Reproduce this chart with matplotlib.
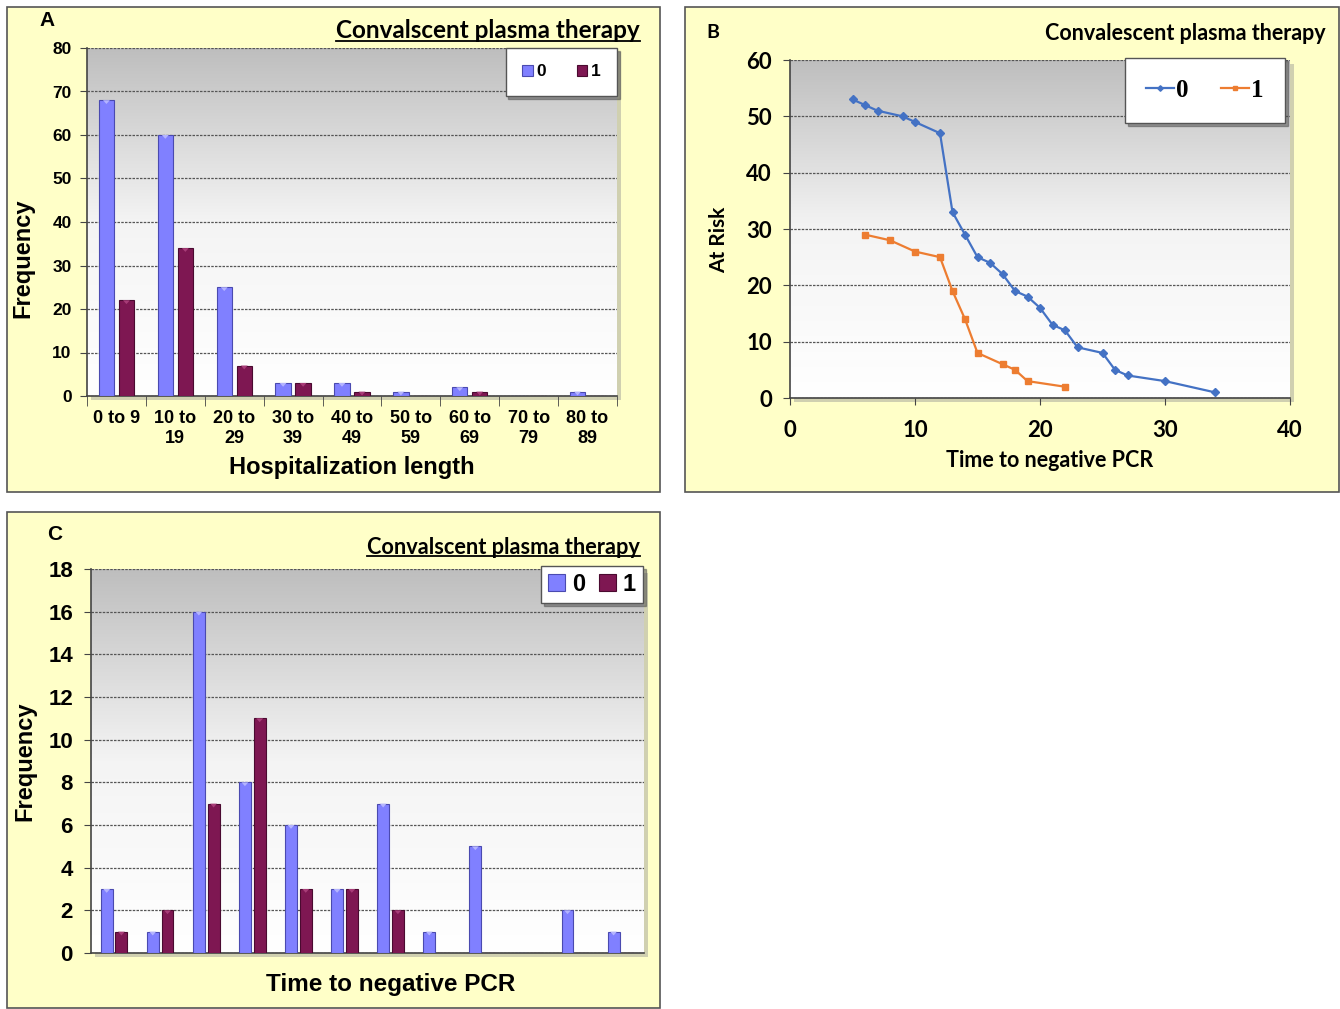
import matplotlib
matplotlib.use("Agg")
import matplotlib.pyplot as plt
import numpy as np
from matplotlib.patches import Rectangle
from matplotlib.lines import Line2D

# panel A data
hosp_cats = ["0 to 9", "10 to\n19", "20 to\n29", "30 to\n39", "40 to\n49",
             "50 to\n59", "60 to\n69", "70 to\n79", "80 to\n89"]
hosp_no_cp = [68, 60, 25, 3, 3, 1, 2, 0, 1]
hosp_cp = [22, 34, 7, 3, 1, 0, 1, 0, 0]

# panel B data
risk_x0 = [5, 6, 7, 9, 10, 12, 13, 14, 15, 16, 17, 18, 19, 20, 21, 22, 23, 25, 26, 27, 30, 34]
risk_y0 = [53, 52, 51, 50, 49, 47, 33, 29, 25, 24, 22, 19, 18, 16, 13, 12, 9, 8, 5, 4, 3, 1]
risk_x1 = [6, 8, 10, 12, 13, 14, 15, 17, 18, 19, 22]
risk_y1 = [29, 28, 26, 25, 19, 14, 8, 6, 5, 3, 2]

# panel C data
pcr_no_cp = [3, 1, 16, 8, 6, 3, 7, 1, 5, 0, 2, 1]
pcr_cp = [1, 2, 7, 11, 3, 3, 2, 0, 0, 0, 0, 0]

BLUE = "#8080FF"
BLUE_EDGE = "#4A4AB0"
MAROON = "#7E1752"
MAROON_EDGE = "#4A0A30"
PANEL_BG = "#FFFFC8"
ARIAL = "Liberation Sans"
CAL = "Lato"
TRI = [(-1, 0), (1, 0), (0, -1.1)]  # triangle hanging below its anchor point

fig = plt.figure(figsize=(13.4, 10.09), dpi=100)
W, H = 1340, 1009


def fx(px):
    return px / W


def fy(py):
    return 1 - py / H


def panel_box(x0, y0, x1, y1):
    fig.patches.append(Rectangle((fx(x0), fy(y1)), fx(x1 - x0), (y1 - y0) / H,
                                 transform=fig.transFigure, facecolor=PANEL_BG,
                                 edgecolor="#555555", lw=1.2, zorder=-2))


def axes_at(x0, y0, x1, y1):
    # plot area shadow
    fig.patches.append(Rectangle((fx(x0 + 4), fy(y1 + 4)), fx(x1 - x0), (y1 - y0) / H,
                                 transform=fig.transFigure, facecolor="#D0D0B0",
                                 edgecolor="none", zorder=-1))
    ax = fig.add_axes([fx(x0), fy(y1), fx(x1 - x0), (y1 - y0) / H])
    grad = np.linspace(0, 1, 256).reshape(-1, 1)
    ax.imshow(grad, cmap=matplotlib.colors.LinearSegmentedColormap.from_list(
        "g", ["#FFFFFF", "#F4F4F4", "#BEBEBE"]), origin="lower",
        extent=[0, 1, 0, 1], transform=ax.transAxes, aspect="auto", zorder=0)
    for s in ["top", "right"]:
        ax.spines[s].set_visible(False)
    for s in ["left", "bottom"]:
        ax.spines[s].set_color("#444444")
        ax.spines[s].set_linewidth(1.2)
    ax.yaxis.grid(True, linestyle=(0, (2, 1)), color="#555555", lw=0.9)
    ax.set_axisbelow(True)
    return ax


def bar_pair(ax, a, b, offset, width):
    x = np.arange(len(a))
    ba = ax.bar(x - offset, a, width, color=BLUE, edgecolor=BLUE_EDGE, lw=0.8, zorder=3)
    bb = ax.bar(x + offset, b, width, color=MAROON, edgecolor=MAROON_EDGE, lw=0.8, zorder=3)
    # small highlight triangles at the top of the bars
    a_arr, b_arr = np.array(a), np.array(b)
    ma, mb = a_arr > 0, b_arr > 0
    ax.scatter((x - offset)[ma], a_arr[ma], marker=TRI, s=30, color="#B4B4FF",
               zorder=4, edgecolors="none")
    ax.scatter((x + offset)[mb], b_arr[mb], marker=TRI, s=30, color="#A83C78",
               zorder=4, edgecolors="none")
    return ba, bb


def underline_title(t):
    fig.canvas.draw()
    bb = t.get_window_extent().transformed(fig.transFigure.inverted())
    fig.add_artist(Line2D([bb.x0, bb.x1], [bb.y0 + 0.001, bb.y0 + 0.001],
                          transform=fig.transFigure, color="black", lw=1.3))


# ---------------- Panel A ----------------
panel_box(7, 7, 660, 492)
axA = axes_at(87, 48, 617, 396)
barsA = bar_pair(axA, hosp_no_cp, hosp_cp, 0.17, 0.26)
axA.set_xlim(-0.5, len(hosp_cats) - 0.5)
axA.set_ylim(0, 80)
axA.set_yticks(np.arange(0, 81, 10))
axA.set_xticks(np.arange(len(hosp_cats)))
axA.set_xticklabels(hosp_cats, fontsize=13, fontweight="bold", family=ARIAL,
                    linespacing=1.25, va="top")
axA.set_xticks(np.arange(len(hosp_cats) + 1) - 0.5, minor=True)
axA.tick_params(axis="x", which="major", length=0, pad=10)
axA.tick_params(axis="x", which="minor", length=7, direction="out", color="#444444")
axA.tick_params(axis="y", length=5, color="#444444", pad=6)
for lab in axA.get_yticklabels():
    lab.set_fontsize(12.5)
    lab.set_fontweight("bold")
    lab.set_family(ARIAL)
axA.set_ylabel("Frequency", fontsize=17, fontweight="bold", family=ARIAL)
axA.yaxis.set_label_coords(-0.1, 0.397)
axA.set_xlabel("Hospitalization length", fontsize=17, fontweight="bold", family=ARIAL)
axA.xaxis.set_label_coords(0.5, -0.173)
legA = axA.legend(barsA, ["0", "1"], ncol=2, loc="upper right",
                  bbox_to_anchor=(1.0, 1.0), borderaxespad=0,
                  prop={"family": ARIAL, "weight": "bold", "size": 12.5},
                  handlelength=0.6, handleheight=0.6, columnspacing=1.8,
                  handletextpad=0.2, fancybox=False, shadow=True, framealpha=1,
                  edgecolor="#555555", borderpad=0.95)
legA.set_zorder(6)
fig.text(fx(47), fy(21), "A", fontsize=15, fontweight="bold", family=ARIAL,
         ha="center", va="center")
tA = fig.text(fx(640), fy(31), "Convalscent plasma therapy", fontsize=17.5,
              fontweight="bold", family=CAL, ha="right", va="center")

# ---------------- Panel B ----------------
panel_box(685, 7, 1339, 492)
axB = axes_at(790, 60, 1290, 398)
axB.plot(risk_x0, risk_y0, color="#4472C4", marker="D", ms=4, lw=1.6, zorder=3,
         label="0")
axB.plot(risk_x1, risk_y1, color="#ED7D31", marker="s", ms=5, lw=1.6, zorder=3,
         label="1")
axB.set_xlim(0, 40)
axB.set_ylim(0, 60)
axB.set_xticks(np.arange(0, 41, 10))
axB.set_yticks(np.arange(0, 61, 10))
axB.tick_params(axis="both", length=5, color="#444444", labelsize=16)
for lab in axB.get_xticklabels() + axB.get_yticklabels():
    lab.set_fontweight("bold")
    lab.set_family(CAL)
axB.tick_params(axis="x", pad=11)
axB.tick_params(axis="y", pad=8)
axB.set_ylabel("At Risk", fontsize=15, fontweight="bold", family=CAL)
axB.yaxis.set_label_coords(-0.122, 0.467)
axB.set_xlabel("Time to negative PCR", fontsize=15.5, fontweight="bold", family=CAL)
axB.xaxis.set_label_coords(0.52, -0.155)
legB = axB.legend(ncol=2, loc="upper right", bbox_to_anchor=(0.99, 1.006),
                  borderaxespad=0,
                  prop={"family": "Liberation Serif", "weight": "bold", "size": 18},
                  handlelength=1.1, columnspacing=1.3, handletextpad=0.1,
                  fancybox=False, shadow=True, framealpha=1, edgecolor="#555555",
                  borderpad=0.85, markerscale=0.7)
legB.set_zorder(6)
fig.text(fx(713), fy(33), "B", fontsize=14, fontweight="bold", family=CAL,
         ha="center", va="center")
fig.text(fx(1326), fy(34), "Convalescent plasma therapy", fontsize=15.5,
         fontweight="bold", family=CAL, ha="right", va="center")

# ---------------- Panel C ----------------
panel_box(7, 512, 660, 1008)
axC = axes_at(91, 569, 644, 953)
barsC = bar_pair(axC, pcr_no_cp, pcr_cp, 0.16, 0.26)
axC.set_xlim(-0.5, len(pcr_no_cp) - 0.5)
axC.set_ylim(0, 18)
axC.set_yticks(np.arange(0, 19, 2))
axC.set_xticks([])
axC.tick_params(axis="y", length=5, color="#444444", labelsize=16, pad=8)
for lab in axC.get_yticklabels():
    lab.set_fontweight("bold")
    lab.set_family(ARIAL)
axC.set_ylabel("Frequency", fontsize=17, fontweight="bold", family=ARIAL)
axC.yaxis.set_label_coords(-0.098, 0.5)
axC.set_xlabel("Time to negative PCR", fontsize=17.5, fontweight="bold", family=ARIAL)
axC.xaxis.set_label_coords(0.541, -0.051)
legC = axC.legend(barsC, ["0", "1"], ncol=2, loc="upper right",
                  bbox_to_anchor=(0.998, 1.008), borderaxespad=0,
                  prop={"family": ARIAL, "weight": "bold", "size": 17},
                  handlelength=0.7, handleheight=0.7, columnspacing=0.6,
                  handletextpad=0.3, fancybox=False, shadow=True, framealpha=1,
                  edgecolor="#555555", borderpad=0.3)
legC.set_zorder(6)
fig.text(fx(55), fy(535), "C", fontsize=15, fontweight="bold", family=ARIAL,
         ha="center", va="center")
tC = fig.text(fx(640), fy(547), "Convalscent plasma therapy", fontsize=15.7,
              fontweight="bold", family=CAL, ha="right", va="center")

underline_title(tA)
underline_title(tC)

fig.savefig("out.png", dpi=100, facecolor="white")
